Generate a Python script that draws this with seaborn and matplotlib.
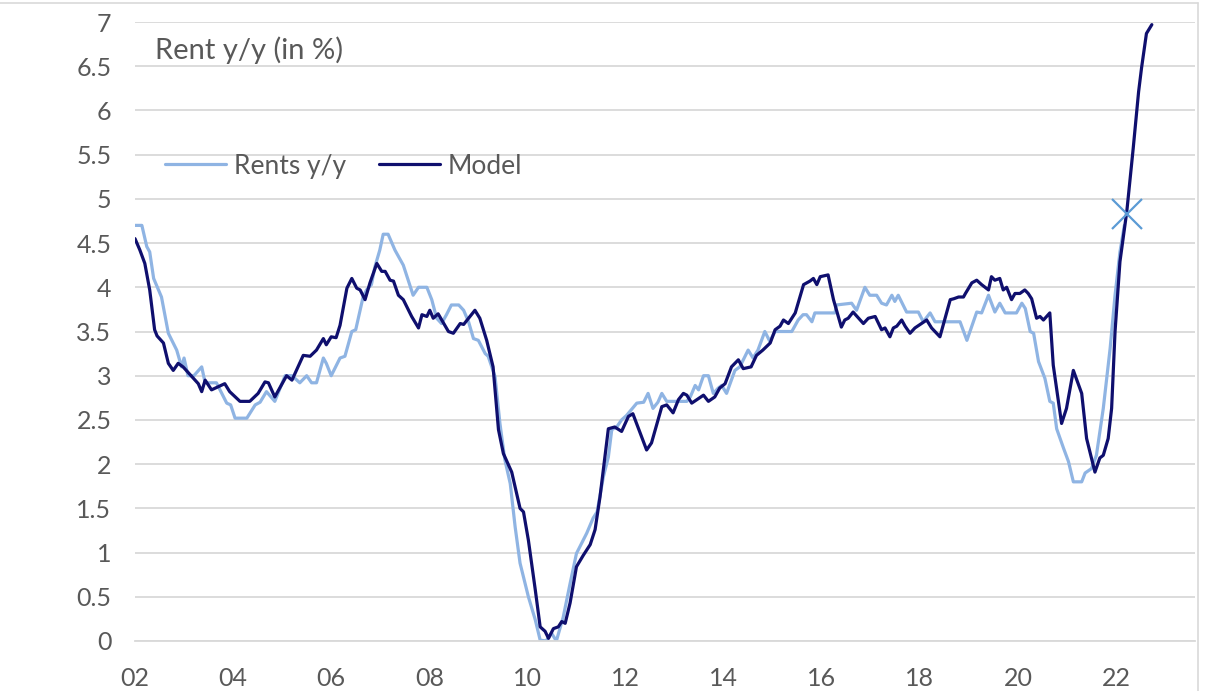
import pandas as pd
import numpy as np
import matplotlib
matplotlib.use("Agg")
import matplotlib.pyplot as plt
import seaborn as sns
from matplotlib.lines import Line2D

# Rents y/y (light blue)
rent_year = [
    2002.00, 2002.14, 2002.24, 2002.30, 2002.38, 2002.54, 2002.68, 2002.85, 2002.95, 2003.00,
    2003.08, 2003.20, 2003.36, 2003.43, 2003.66, 2003.87, 2003.95, 2004.04, 2004.28, 2004.45,
    2004.55, 2004.68, 2004.85, 2005.06, 2005.20, 2005.36, 2005.50, 2005.60, 2005.70, 2005.84,
    2005.90, 2006.00, 2006.18, 2006.28, 2006.42, 2006.50, 2006.65, 2006.72, 2006.82, 2006.89,
    2006.99, 2007.06, 2007.16, 2007.30, 2007.47, 2007.57, 2007.67, 2007.78, 2007.95, 2008.05,
    2008.15, 2008.25, 2008.35, 2008.45, 2008.60, 2008.70, 2008.80, 2008.90, 2009.00, 2009.14,
    2009.20, 2009.34, 2009.44, 2009.54, 2009.65, 2009.75, 2009.85, 2010.02, 2010.16, 2010.26,
    2010.38, 2010.49, 2010.59, 2010.73, 2010.87, 2011.00, 2011.21, 2011.34, 2011.42, 2011.55,
    2011.65, 2011.72, 2011.82, 2011.92, 2012.02, 2012.23, 2012.37, 2012.46, 2012.56, 2012.66,
    2012.74, 2012.84, 2013.25, 2013.32, 2013.42, 2013.49, 2013.59, 2013.69, 2013.79, 2013.89,
    2013.96, 2014.06, 2014.23, 2014.33, 2014.50, 2014.60, 2014.70, 2014.84, 2014.94, 2015.05,
    2015.39, 2015.52, 2015.62, 2015.69, 2015.80, 2015.86, 2016.27, 2016.30, 2016.61, 2016.71,
    2016.88, 2016.98, 2017.12, 2017.22, 2017.32, 2017.43, 2017.49, 2017.56, 2017.73, 2017.97,
    2018.07, 2018.21, 2018.31, 2018.82, 2018.96, 2019.16, 2019.26, 2019.40, 2019.53, 2019.63,
    2019.74, 2019.97, 2020.08, 2020.15, 2020.25, 2020.32, 2020.42, 2020.55, 2020.65, 2020.72,
    2020.79, 2020.93, 2021.03, 2021.13, 2021.30, 2021.37, 2021.50, 2021.60, 2021.74, 2021.88,
    2021.98, 2022.08, 2022.17,
]
rent_val = [
    4.70, 4.70, 4.46, 4.40, 4.10, 3.89, 3.48, 3.29, 3.10, 3.20,
    3.00, 3.00, 3.10, 2.92, 2.92, 2.69, 2.67, 2.52, 2.52, 2.67,
    2.70, 2.82, 2.71, 3.00, 3.00, 2.92, 3.00, 2.92, 2.92, 3.20,
    3.14, 3.00, 3.20, 3.22, 3.50, 3.52, 3.89, 3.97, 4.03, 4.23,
    4.42, 4.60, 4.60, 4.42, 4.25, 4.08, 3.91, 4.00, 4.00, 3.86,
    3.65, 3.59, 3.69, 3.80, 3.80, 3.74, 3.61, 3.42, 3.40, 3.25,
    3.22, 2.99, 2.46, 2.05, 1.78, 1.29, 0.88, 0.50, 0.24, 0.01,
    0.00, 0.09, 0.00, 0.27, 0.65, 0.99, 1.22, 1.39, 1.46, 1.86,
    2.08, 2.39, 2.42, 2.50, 2.55, 2.69, 2.70, 2.80, 2.63, 2.70,
    2.80, 2.71, 2.71, 2.76, 2.89, 2.84, 3.00, 3.00, 2.80, 2.86,
    2.89, 2.80, 3.06, 3.10, 3.29, 3.20, 3.29, 3.50, 3.39, 3.50,
    3.50, 3.63, 3.69, 3.69, 3.61, 3.71, 3.71, 3.80, 3.82, 3.74,
    4.00, 3.91, 3.91, 3.82, 3.80, 3.91, 3.84, 3.91, 3.72, 3.72,
    3.61, 3.71, 3.61, 3.61, 3.40, 3.72, 3.71, 3.91, 3.72, 3.82,
    3.71, 3.71, 3.82, 3.76, 3.50, 3.48, 3.16, 2.97, 2.71, 2.69,
    2.40, 2.18, 2.03, 1.80, 1.80, 1.90, 1.95, 2.10, 2.63, 3.31,
    3.91, 4.40, 4.70,
]

# Model (dark navy)
model_year = [
    2002.00, 2002.10, 2002.20, 2002.30, 2002.40, 2002.45, 2002.58, 2002.68, 2002.78, 2002.88,
    2002.98, 2003.16, 2003.29, 2003.36, 2003.43, 2003.56, 2003.83, 2003.93, 2004.14, 2004.34,
    2004.51, 2004.65, 2004.72, 2004.85, 2005.09, 2005.20, 2005.43, 2005.57, 2005.70, 2005.84,
    2005.90, 2006.00, 2006.10, 2006.18, 2006.32, 2006.42, 2006.52, 2006.59, 2006.69, 2006.79,
    2006.93, 2007.03, 2007.10, 2007.20, 2007.27, 2007.37, 2007.47, 2007.64, 2007.78, 2007.85,
    2007.95, 2008.01, 2008.08, 2008.18, 2008.39, 2008.49, 2008.63, 2008.70, 2008.93, 2009.03,
    2009.17, 2009.30, 2009.41, 2009.51, 2009.68, 2009.85, 2009.92, 2010.02, 2010.16, 2010.26,
    2010.36, 2010.43, 2010.53, 2010.63, 2010.70, 2010.77, 2010.87, 2011.00, 2011.14, 2011.28,
    2011.38, 2011.48, 2011.65, 2011.78, 2011.92, 2012.06, 2012.15, 2012.43, 2012.53, 2012.74,
    2012.84, 2012.97, 2013.08, 2013.18, 2013.25, 2013.35, 2013.59, 2013.69, 2013.82, 2013.92,
    2014.03, 2014.16, 2014.30, 2014.40, 2014.56, 2014.67, 2014.80, 2014.95, 2015.05, 2015.15,
    2015.22, 2015.32, 2015.46, 2015.63, 2015.76, 2015.83, 2015.90, 2015.97, 2016.13, 2016.24,
    2016.40, 2016.47, 2016.54, 2016.64, 2016.85, 2016.95, 2017.09, 2017.22, 2017.29, 2017.39,
    2017.46, 2017.53, 2017.63, 2017.70, 2017.80, 2017.90, 2018.14, 2018.24, 2018.41, 2018.62,
    2018.69, 2018.79, 2018.89, 2018.93, 2019.06, 2019.16, 2019.26, 2019.40, 2019.46, 2019.53,
    2019.63, 2019.70, 2019.77, 2019.87, 2019.94, 2020.04, 2020.14, 2020.21, 2020.28, 2020.38,
    2020.45, 2020.52, 2020.65, 2020.72, 2020.89, 2020.99, 2021.13, 2021.30, 2021.40, 2021.57,
    2021.67, 2021.74, 2021.84, 2021.91, 2021.98, 2022.08, 2022.22, 2022.35, 2022.46, 2022.52,
    2022.62, 2022.73,
]
model_val = [
    4.55, 4.42, 4.27, 3.97, 3.52, 3.45, 3.37, 3.14, 3.06, 3.14,
    3.10, 2.99, 2.91, 2.82, 2.95, 2.84, 2.91, 2.82, 2.71, 2.71,
    2.80, 2.93, 2.92, 2.76, 3.00, 2.95, 3.23, 3.22, 3.29, 3.42,
    3.35, 3.44, 3.43, 3.57, 3.99, 4.10, 3.99, 3.97, 3.86, 4.05,
    4.27, 4.18, 4.18, 4.08, 4.07, 3.91, 3.86, 3.67, 3.54, 3.69,
    3.67, 3.74, 3.65, 3.70, 3.50, 3.48, 3.59, 3.58, 3.74, 3.65,
    3.40, 3.10, 2.39, 2.12, 1.91, 1.50, 1.46, 1.14, 0.58, 0.16,
    0.11, 0.03, 0.14, 0.16, 0.22, 0.20, 0.43, 0.84, 0.97, 1.09,
    1.26, 1.63, 2.40, 2.42, 2.37, 2.54, 2.57, 2.16, 2.24, 2.65,
    2.67, 2.58, 2.73, 2.80, 2.78, 2.69, 2.78, 2.71, 2.76, 2.86,
    2.91, 3.10, 3.18, 3.08, 3.10, 3.23, 3.29, 3.37, 3.52, 3.56,
    3.63, 3.59, 3.71, 4.03, 4.07, 4.10, 4.03, 4.12, 4.14, 3.86,
    3.55, 3.63, 3.65, 3.72, 3.59, 3.65, 3.67, 3.52, 3.54, 3.44,
    3.54, 3.56, 3.63, 3.56, 3.48, 3.54, 3.63, 3.54, 3.44, 3.86,
    3.87, 3.89, 3.89, 3.93, 4.05, 4.08, 4.03, 3.97, 4.12, 4.08,
    4.10, 3.97, 4.00, 3.86, 3.93, 3.93, 3.97, 3.93, 3.87, 3.65,
    3.67, 3.63, 3.71, 3.12, 2.46, 2.63, 3.06, 2.80, 2.29, 1.91,
    2.07, 2.10, 2.29, 2.63, 3.50, 4.29, 4.86, 5.57, 6.21, 6.48,
    6.87, 6.97,
]

# single marked point
cross_year = [2022.22]
cross_val = [4.83]

x_ticks = [2002, 2004, 2006, 2008, 2010, 2012, 2014, 2016, 2018, 2020, 2022]
x_labels = ["02", "04", "06", "08", "10", "12", "14", "16", "18", "20", "22"]
y_ticks = [0, 0.5, 1, 1.5, 2, 2.5, 3, 3.5, 4, 4.5, 5, 5.5, 6, 6.5, 7]
y_labels = ["0", "0.5", "1", "1.5", "2", "2.5", "3", "3.5", "4", "4.5", "5", "5.5", "6", "6.5", "7"]

LIGHT = "#8FB4E3"
DARK = "#0F0F6E"
GRID = "#D9D9D9"
TXT = "#595959"

sns.set_style("white")
plt.rcParams["font.family"] = ["Lato", "DejaVu Sans"]

fig = plt.figure(figsize=(12.07, 6.91), dpi=100)
ax = fig.add_axes([135 / 1207, 1 - 641 / 691, 1060 / 1207, 619 / 691])

rents = pd.DataFrame({"year": rent_year, "value": rent_val})
model = pd.DataFrame({"year": model_year, "value": model_val})

sns.lineplot(data=rents, x="year", y="value", ax=ax, color=LIGHT, lw=2.3,
             sort=False, estimator=None, label="Rents y/y")
sns.lineplot(data=model, x="year", y="value", ax=ax, color=DARK, lw=2.3,
             sort=False, estimator=None, label="Model")
ax.plot(cross_year, cross_val, linestyle="none", marker="x", markersize=22,
        markeredgewidth=1.6, color="#5B9BD5", zorder=5)

ax.set_xlim(2002, 2023.61)
ax.set_ylim(0, 7)
ax.set_xticks(x_ticks)
ax.set_xticklabels(x_labels)
ax.set_yticks(y_ticks)
ax.set_yticklabels(y_labels)
ax.set_xlabel("")
ax.set_ylabel("")

ax.grid(axis="y", color=GRID, lw=1.3)
ax.set_axisbelow(True)
for s in ["left", "right", "top"]:
    ax.spines[s].set_visible(False)
ax.spines["bottom"].set_color(GRID)
ax.spines["bottom"].set_linewidth(1.3)
ax.tick_params(axis="x", length=6, width=1.3, color=GRID, pad=13,
               labelsize=18, labelcolor=TXT)
ax.tick_params(axis="y", length=0, pad=17, labelsize=18, labelcolor=TXT)

ax.text(0.019, 0.955, "Rent y/y (in %)", transform=ax.transAxes, fontsize=21,
        color=TXT, ha="left", va="center")

ax.legend(loc="center left", bbox_to_anchor=(0.006, 0.767), ncol=2, frameon=False,
          fontsize=19, handlelength=2.3, handletextpad=0.3, columnspacing=1.25,
          labelcolor=TXT)

# outer chart frame (top and right edges visible in the crop)
fig.add_artist(Line2D([0, 1198 / 1207], [1 - 3 / 691, 1 - 3 / 691], color=GRID, lw=1.2))
fig.add_artist(Line2D([1198 / 1207, 1198 / 1207], [0, 1 - 3 / 691], color=GRID, lw=1.2))

fig.savefig("out.png", dpi=100)
